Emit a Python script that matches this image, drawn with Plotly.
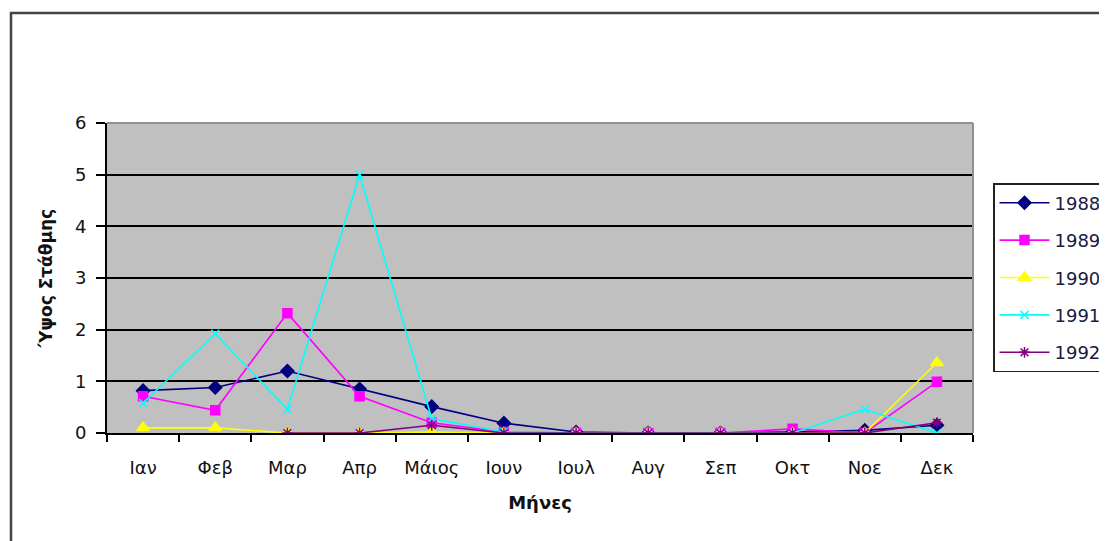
import plotly.graph_objects as go

months = ["Ιαν", "Φεβ", "Μαρ", "Απρ", "Μάιος", "Ιουν", "Ιουλ", "Αυγ", "Σεπ", "Οκτ", "Νοε", "Δεκ"]
y1988 = [0.82, 0.88, 1.2, 0.85, 0.51, 0.19, 0.02, 0.0, 0.0, 0.02, 0.05, 0.15]
y1989 = [0.71, 0.44, 2.32, 0.71, 0.2, 0.02, 0.0, 0.0, 0.0, 0.08, 0.0, 0.99]
y1990 = [0.1, 0.1, 0.0, 0.0, 0.02, 0.0, 0.0, 0.0, 0.0, 0.0, 0.0, 1.36]
y1991 = [0.58, 1.92, 0.46, 5.0, 0.28, 0.02, 0.0, 0.0, 0.0, 0.0, 0.46, 0.0]
y1992 = [None, None, 0.0, 0.0, 0.15, 0.0, 0.0, 0.0, 0.0, 0.0, 0.0, 0.2]
years = ["1988", "1989", "1990", "1991", "1992"]
y_ticks = [0, 1, 2, 3, 4, 5, 6]

series = [y1988, y1989, y1990, y1991, y1992]
colors = ["#000080", "#FF00FF", "#FFFF00", "#00FFFF", "#800080"]
symbols = ["diamond", "square", "triangle-up", "x-thin-open", "asterisk-open"]
msizes = [10, 9, 11, 8, 9]

FONT = "DejaVu Sans, Liberation Sans, Arial, sans-serif"

fig = go.Figure()
for name, ys, c, s, ms in zip(years, series, colors, symbols, msizes):
    fig.add_trace(go.Scatter(
        x=months, y=ys, name=name, mode="lines+markers",
        line=dict(color=c, width=1.6),
        marker=dict(symbol=s, size=ms, color=c, line=dict(color=c, width=1.5)),
        legendgroup=name,
    ))

# page body has an 8px margin; all pixel positions are shifted by it
OFF = 8
W, H = 1107 - OFF, 541 - OFF
L, R, T, B = 107 - OFF, 973 - OFF, 123 - OFF, 433 - OFF
pw, ph = R - L, B - T

def px(x):
    return (x - OFF - L) / pw

def py(y):
    return (B - (y - OFF)) / ph

fig.update_layout(
    width=W, height=H,
    margin=dict(l=L, r=W - R, t=T, b=H - B, pad=0, autoexpand=False),
    paper_bgcolor="white",
    plot_bgcolor="#C0C0C0",
    font=dict(family=FONT, color="#000000"),
    showlegend=True,
    legend=dict(
        x=px(993), y=py(183), xanchor="left", yanchor="top",
        bordercolor="#222222", borderwidth=1.5, bgcolor="white",
        font=dict(family=FONT, size=18, color="#1a1a40"),
        itemwidth=50, tracegroupgap=11,
    ),
    xaxis=dict(
        type="category", tickson="boundaries", ticks="outside", ticklen=7,
        tickwidth=1.5, tickcolor="black", showline=True, linecolor="black",
        linewidth=2, showgrid=False, range=[-0.5, 11.5], automargin=False,
        ticklabelstandoff=17,
        tickfont=dict(family=FONT, size=18, color="#111111"),
        title=dict(text="<b>Μήνες</b>", font=dict(family=FONT, size=18, color="#111111"), standoff=20),
    ),
    yaxis=dict(
        range=[0, 6], tickvals=y_ticks, ticks="outside", ticklen=9, tickwidth=1.5,
        tickcolor="black", showline=True, linecolor="black", linewidth=2,
        showgrid=True, gridcolor="black", gridwidth=2, zeroline=False, automargin=False,
        ticklabelstandoff=6,
        tickfont=dict(family=FONT, size=18, color="#111111"),
        title=dict(text="<b>Ύψος Στάθμης</b>", font=dict(family=FONT, size=17, color="#111111"), standoff=18),
    ),
    shapes=[
        dict(type="line", xref="paper", yref="paper", x0=0, x1=1, y0=1, y1=1,
             line=dict(color="#909090", width=2), layer="above"),
        dict(type="line", xref="paper", yref="paper", x0=1, x1=1, y0=0, y1=1,
             line=dict(color="#909090", width=2), layer="above"),
        dict(type="rect", xref="paper", yref="paper",
             x0=px(11), x1=px(1125), y0=py(13), y1=py(570),
             line=dict(color="#444444", width=2.5), layer="below"),
    ],
)

fig.write_html("out.html")
